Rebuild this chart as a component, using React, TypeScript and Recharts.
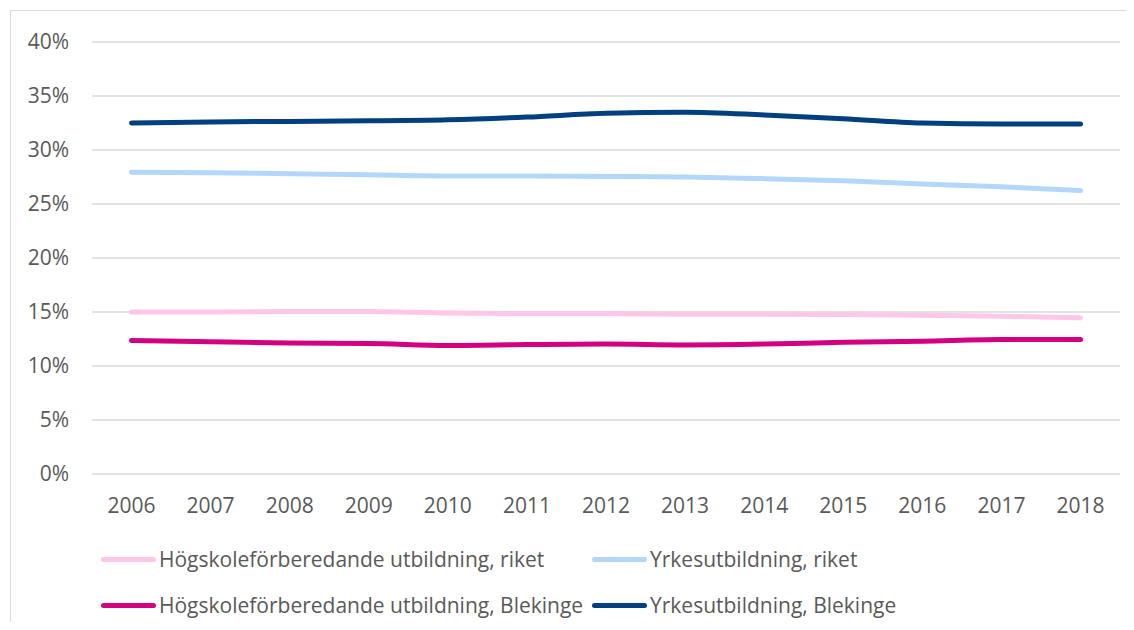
import React from 'react'
import {
  LineChart,
  Line,
  XAxis,
  YAxis,
  CartesianGrid,
  Legend
} from 'recharts'

const years = ['2006', '2007', '2008', '2009', '2010', '2011', '2012', '2013', '2014', '2015', '2016', '2017', '2018']

// andel i procent
const hogskoleRiket = [15.0, 15.0, 15.05, 15.05, 14.9, 14.85, 14.85, 14.8, 14.8, 14.77, 14.7, 14.6, 14.45]
const yrkesRiket = [27.95, 27.9, 27.8, 27.7, 27.6, 27.6, 27.55, 27.5, 27.35, 27.15, 26.85, 26.6, 26.25]
const hogskoleBlekinge = [12.35, 12.25, 12.12, 12.08, 11.9, 11.98, 12.03, 11.95, 12.03, 12.2, 12.3, 12.45, 12.45]
const yrkesBlekinge = [32.5, 32.6, 32.65, 32.7, 32.8, 33.05, 33.4, 33.5, 33.25, 32.9, 32.5, 32.4, 32.4]

const yTicks = [0, 5, 10, 15, 20, 25, 30, 35, 40]

const series = [
  { key: 'hogskoleRiket', name: 'Högskoleförberedande utbildning, riket', color: '#FFC6E8' },
  { key: 'yrkesRiket', name: 'Yrkesutbildning, riket', color: '#B3D7FC' },
  { key: 'hogskoleBlekinge', name: 'Högskoleförberedande utbildning, Blekinge', color: '#D5007F' },
  { key: 'yrkesBlekinge', name: 'Yrkesutbildning, Blekinge', color: '#003F80' }
]

const data = years.map((year, i) => ({
  year,
  hogskoleRiket: hogskoleRiket[i],
  yrkesRiket: yrkesRiket[i],
  hogskoleBlekinge: hogskoleBlekinge[i],
  yrkesBlekinge: yrkesBlekinge[i]
}))

const font = '"Open Sans", sans-serif'
const textColor = '#595959'

function LegendBox() {
  const rowTop = [30, 76]
  const colLeft = [101, 592]
  return (
    <div style={{ position: 'relative', width: 1134, height: 100, fontFamily: font, fontSize: 21, color: textColor }}>
      {series.map((s, i) => (
        <div
          key={s.key}
          style={{
            position: 'absolute',
            top: rowTop[Math.floor(i / 2)],
            left: colLeft[i % 2],
            height: 30,
            display: 'flex',
            alignItems: 'center',
            whiteSpace: 'nowrap'
          }}
        >
          <span style={{ display: 'inline-block', width: 55, height: 5, borderRadius: 3, background: s.color }} />
          <span style={{ marginLeft: 3 }}>{s.name}</span>
        </div>
      ))}
    </div>
  )
}

export default function App() {
  return (
    <div style={{ position: 'relative', margin: -8, width: 1134, height: 630, overflow: 'hidden', background: '#fff' }}>
      <div
        style={{
          position: 'absolute',
          left: 10,
          top: 10,
          width: 1200,
          height: 700,
          border: '1px solid #d9d9d9',
          boxSizing: 'border-box'
        }}
      />
      <LineChart
        width={1134}
        height={630}
        data={data}
        margin={{ top: 42, right: 14, left: 0, bottom: 16 }}
        style={{ position: 'absolute', left: 0, top: 0 }}
      >
        <CartesianGrid vertical={false} stroke="#d9d9d9" strokeWidth={1.5} />
        <XAxis
          dataKey="year"
          axisLine={false}
          tickLine={false}
          height={40}
          tickMargin={18}
          padding={{ left: 39.5, right: 39.5 }}
          tick={{ fill: textColor, fontSize: 21, fontFamily: font }}
        />
        <YAxis
          width={92}
          domain={[0, 40]}
          ticks={yTicks}
          axisLine={false}
          tickLine={false}
          tickMargin={17}
          tickFormatter={(v) => `${v}%`}
          tick={{ fill: textColor, fontSize: 21, fontFamily: font }}
        />
        <Legend verticalAlign="bottom" content={() => <LegendBox />} wrapperStyle={{ left: 0, width: 1134 }} />
        {series.map((s) => (
          <Line
            key={s.key}
            type="monotone"
            dataKey={s.key}
            name={s.name}
            stroke={s.color}
            strokeWidth={5}
            strokeLinecap="round"
            dot={false}
            activeDot={false}
            isAnimationActive={false}
          />
        ))}
      </LineChart>
    </div>
  )
}
